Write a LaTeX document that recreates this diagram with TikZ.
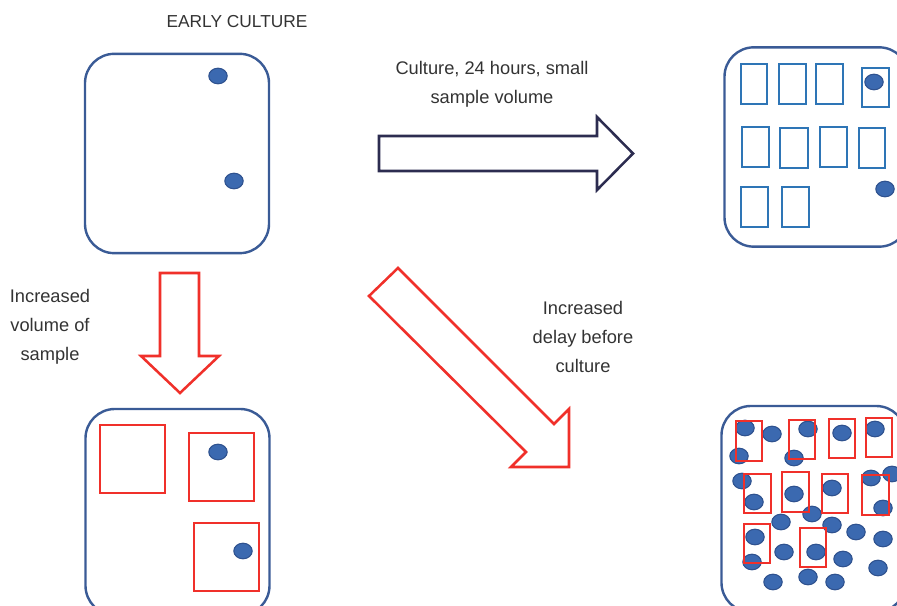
\documentclass[tikz,border=0pt]{standalone}
\usepackage{fontspec}
\setmainfont{Liberation Sans}
\definecolor{dishc}{HTML}{3A5B96}
\definecolor{dotf}{HTML}{3B69B0}
\definecolor{dotd}{HTML}{2F528F}
\definecolor{bluec}{HTML}{2E75B6}
\definecolor{redc}{HTML}{F0302A}
\definecolor{navyc}{HTML}{2C2C50}
\definecolor{txtc}{HTML}{333333}
\begin{document}
\begin{tikzpicture}[x=0.75pt,y=-0.75pt,
  dish/.style={draw=dishc, line width=1.8pt, rounded corners=22pt, rectangle, inner sep=0pt, minimum width=138pt, minimum height=149.5pt},
  blurect/.style={draw=bluec, line width=2.2pt},
  redrect/.style={draw=redc, line width=2.2pt},
  dotc/.style={fill=dotf, draw=dotd, line width=0.8pt},
  lbl/.style={text=txtc, font=\fontsize{13.7}{21.75}\selectfont, align=center, inner sep=0pt},
  bigarrow/.style={line width=1.9pt, line join=miter, fill=white}
]
\useasboundingbox (0,0) rectangle (897,606);
\clip (0,0) rectangle (897,606);

% dishes
\node[dish] (tl) at (177,153.5) {};
\node[dish] (tr) at (816.5,147) {};
\node[dish, minimum height=154.5pt] (bl) at (177.5,512) {};
\node[dish, minimum height=154.5pt] (br) at (813.5,509) {};

% top-left dots
\foreach \p in {(218,76),(234,181)}
  \draw[dotc] \p ellipse [x radius=9.2, y radius=7.8];

% top-right blue rectangles
\foreach \a/\b/\c/\d in {741/64/767/104, 779/64/806/104, 816/64/843/104, 862/68/889/107,
  742/127/769/167, 780/128/808/168, 820/127/847/167, 859/128/885/168,
  741/187/768/227, 782/187/809/227}
  \draw[blurect] (\a,\b) rectangle (\c,\d);
\foreach \p in {(874,82),(885,189)}
  \draw[dotc] \p ellipse [x radius=9.2, y radius=7.8];

% bottom-left red squares
\foreach \a/\b/\c/\d in {100/425/165/493, 189/433/254/501, 194/523/259/591}
  \draw[redrect] (\a,\b) rectangle (\c,\d);
\foreach \p in {(218,452),(243,551)}
  \draw[dotc] \p ellipse [x radius=9.2, y radius=7.8];

% bottom-right dots
\foreach \p in {(745,428),(772,434),(739,456),(808,429),(794,458),(842,433),(875,429),
  (742,481),(754,502),(794,494),(832,488),(871,478),(892,474),(883,508),
  (781,522),(812,514),(832,525),(856,532),(883,539),(755,537),(752,562),
  (784,552),(816,552),(843,559),(878,568),(773,582),(808,577),(835,582)}
  \draw[dotc] \p ellipse [x radius=9.2, y radius=7.8];
% bottom-right red rectangles
\foreach \a/\b/\c/\d in {736/421/762/461, 789/420/815/459, 829/419/855/458, 866/418/892/457,
  744/474/771/513, 782/472/809/512, 822/474/848/513, 862/475/889/515,
  744/524/770/563, 800/528/826/567}
  \draw[redrect] (\a,\b) rectangle (\c,\d);

% block arrows
\draw[bigarrow, draw=navyc] (379,136) -- (597,136) -- (597,117) -- (633,153.5) -- (597,190) -- (597,171) -- (379,171) -- cycle;
\draw[bigarrow, draw=redc] (160,273) -- (199,273) -- (199,356) -- (219,356) -- (180,393) -- (141,356) -- (160,356) -- cycle;
\draw[bigarrow, draw=redc] (398,268) -- (554,424) -- (569,409) -- (569,467) -- (511,467) -- (526,452) -- (369,296) -- cycle;

% labels
\node[lbl, font=\fontsize{13}{16}\selectfont] (title) at (237,22) {EARLY CULTURE};
\node[lbl] (lab1) at (492,84) {Culture, 24 hours, small\\sample volume};
\node[lbl] (lab2) at (50,327) {Increased\\volume of\\sample};
\node[lbl] (lab3) at (583,337) {Increased\\delay before\\culture};
\end{tikzpicture}
\end{document}
